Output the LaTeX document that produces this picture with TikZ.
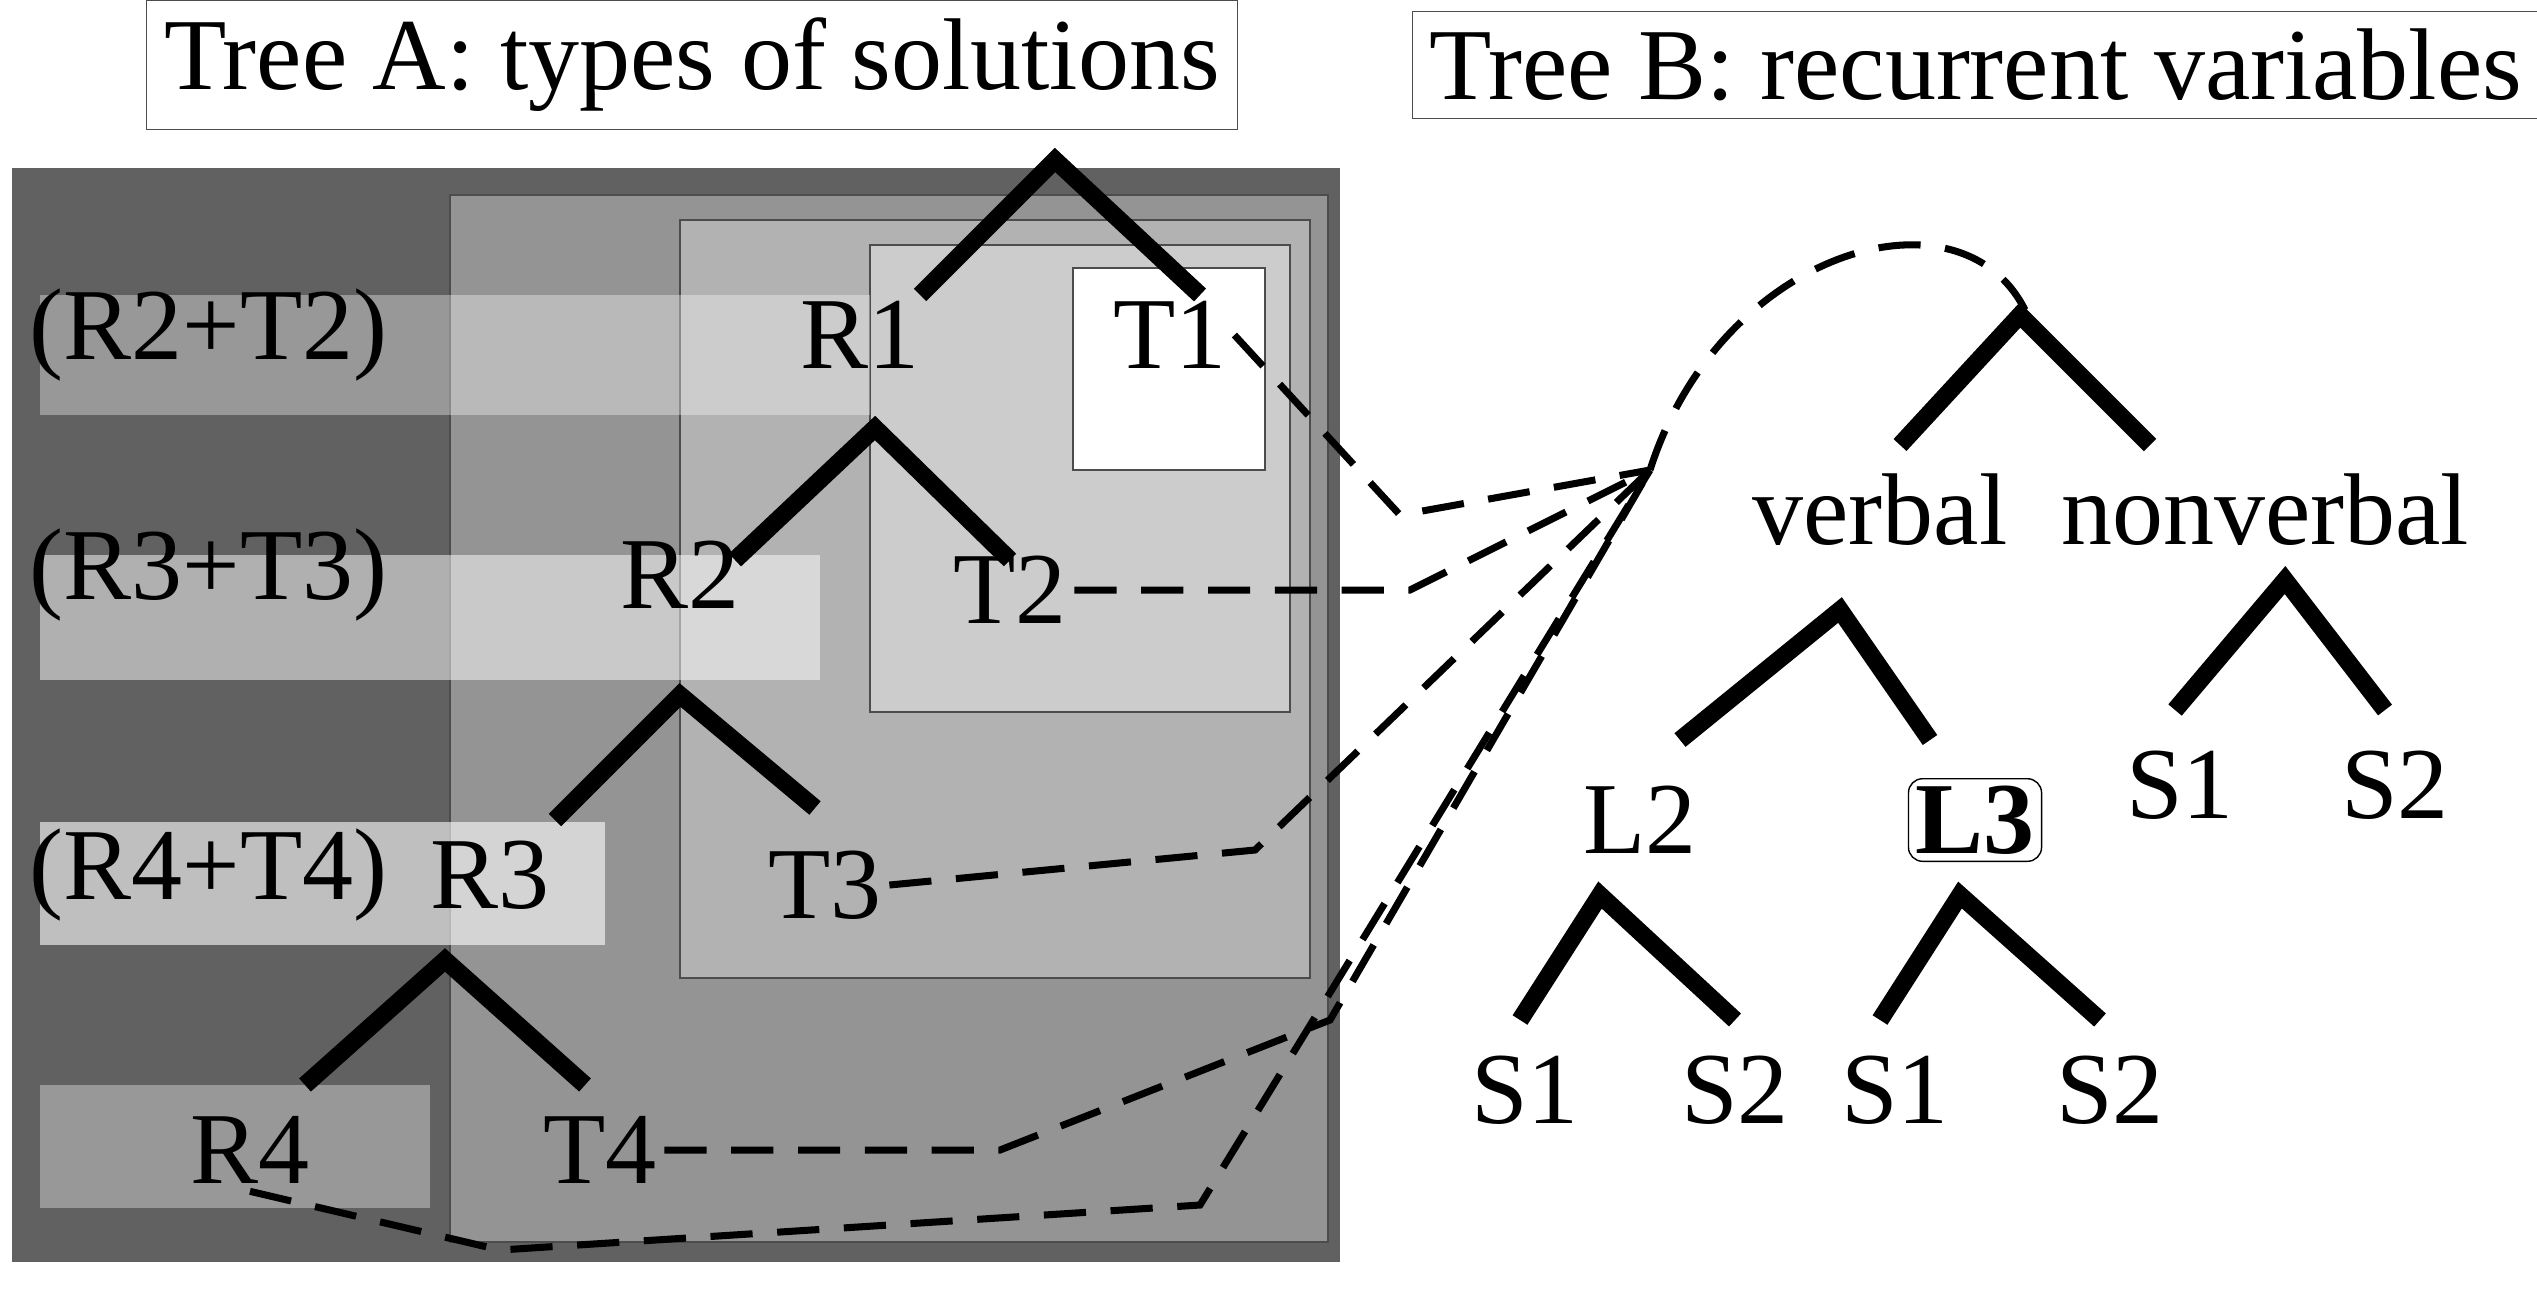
\documentclass[tikz,border=0pt]{standalone}
\usepackage{fontspec}
\setmainfont{Liberation Serif}
\usepackage{tikz}
\usetikzlibrary{arrows.meta}

\begin{document}
\begin{tikzpicture}[x=0.01cm, y=-0.01cm, font=\fontsize{29}{34}\selectfont]
\useasboundingbox (0,0) rectangle (2537,1290);
% nested boxes of tree A
\fill[black!62] (12,168) rectangle (1340,1262);
\filldraw[fill=black!42, draw=black!70, thick] (450,195) rectangle (1328,1242);
\filldraw[fill=black!30, draw=black!70, thick] (680,220) rectangle (1310,978);
\filldraw[fill=black!20, draw=black!70, thick] (870,245) rectangle (1290,712);
\filldraw[fill=white, draw=black!70, thick] (1073,268) rectangle (1265,470);
\fill[white, opacity=0.35] (40,295) rectangle (870,415);
\fill[white, opacity=0.5] (40,555) rectangle (820,680);
\fill[white, opacity=0.6] (40,822) rectangle (605,945);
\fill[white, opacity=0.35] (40,1085) rectangle (430,1208);

\begin{scope}[every node/.style={inner sep=2pt}]
    \node[draw=black!70, inner sep=5pt] (titleA) at (692,65) {Tree A: types of solutions};
    \node[draw=black!70, inner sep=5pt] (titleB) at (1976,65) {Tree B: recurrent variables};
    \node[anchor=west] (lab2) at (22,335) {(R2+T2)};
    \node[anchor=west] (lab3) at (22,575) {(R3+T3)};
    \node[anchor=west] (lab4) at (22,875) {(R4+T4)};
    \node (R1) at (860,335) {R1};
    \node (T1) at (1170,335) {T1};
    \node (R2) at (680,575) {R2};
    \node (T2) at (1010,590) {T2};
    \node (R3) at (490,875) {R3};
    \node (T3) at (825,885) {T3};
    \node (R4) at (250,1150) {R4};
    \node (T4) at (600,1150) {T4};
    \node (verbal) at (1880,510) {verbal};
    \node (nonverbal) at (2265,510) {nonverbal};
    \node (L2) at (1640,820) {L2};
    \node[draw, rounded corners=4pt, font=\fontsize{29}{34}\selectfont\bfseries] (L3) at (1975,820) {L3};
    \node (nS1) at (2180,785) {S1};
    \node (nS2) at (2395,785) {S2};
    \node (aS1) at (1525,1090) {S1};
    \node (aS2) at (1735,1090) {S2};
    \node (bS1) at (1895,1090) {S1};
    \node (bS2) at (2110,1090) {S2};
\end{scope}

% branches
\begin{scope}[line width=5pt]
    \draw (920,295) -- (1055,160) -- (1200,295);
    \draw (735,560) -- (875,428) -- (1010,560);
    \draw (555,820) -- (680,695) -- (815,808);
    \draw (305,1085) -- (445,960) -- (585,1085);
    \draw (1900,445) -- (2020,315) -- (2150,445);
    \draw (1680,740) -- (1840,610) -- (1930,740);
    \draw (2175,710) -- (2285,580) -- (2385,710);
    \draw (1520,1020) -- (1600,895) -- (1735,1020);
    \draw (1880,1020) -- (1960,895) -- (2100,1020);
\end{scope}

% links to tree B
\coordinate (hub) at (1650,470);
\begin{scope}[dash pattern=on 12pt off 7pt, line width=2pt]
    \draw (T1.east) -- (1400,515) -- (hub);
    \draw (T2.east) -- (1410,590) -- (hub);
    \draw (T3.east) -- (1255,850) -- (hub);
    \draw (T4.east) -- (1000,1150) -- (1330,1020) -- (hub);
    \draw (R4.south) -- (500,1250) -- (1200,1205) -- (hub);
    \draw (hub) .. controls (1720,250) and (1960,180) .. (2025,310);
\end{scope}
\end{tikzpicture}
\end{document}
